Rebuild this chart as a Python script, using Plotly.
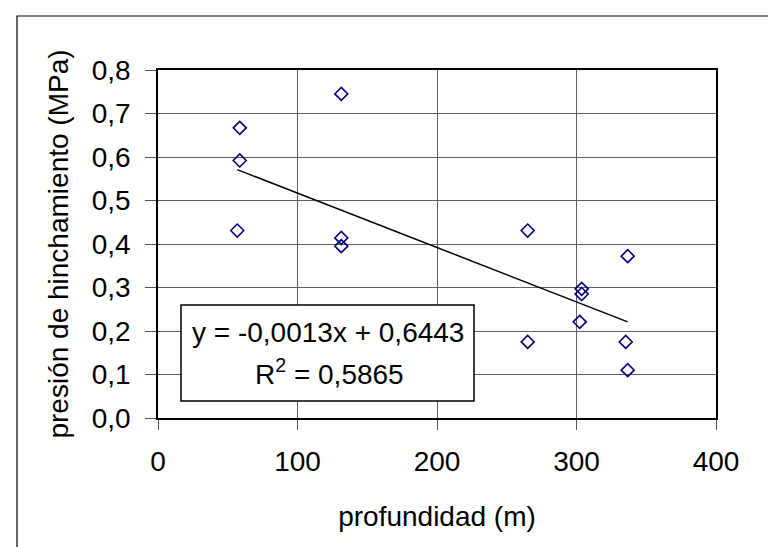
import plotly.graph_objects as go

# data
profundidad = [58.6, 58.6, 56.8, 131.4, 131.4, 131.4, 265.0, 265.0,
               303.7, 303.7, 302.3, 336.7, 335.3, 336.7]
presion = [0.667, 0.592, 0.431, 0.745, 0.414, 0.395, 0.431, 0.175,
           0.297, 0.285, 0.221, 0.372, 0.175, 0.110]
# linear trend line end points (as drawn in the reference)
trend_x = [56.8, 336.7]
trend_y = [0.571, 0.221]
x_ticks = [0, 100, 200, 300, 400]
y_ticks = [0.0, 0.1, 0.2, 0.3, 0.4, 0.5, 0.6, 0.7, 0.8]
y_ticklabels = ["0,0", "0,1", "0,2", "0,3", "0,4", "0,5", "0,6", "0,7", "0,8"]
eq_text = "y = -0,0013x + 0,6443"
r2_text = "R<sup>2</sup> = 0,5865"

FONT = "Liberation Sans, Arial, sans-serif"
FS = 28

L, R, T, B = 150, 68, 62, 137
W, H = 776, 547
pw, ph = W - L - R, H - T - B

def px(xpix):
    return (xpix - L) / pw

def py(ypix):
    return (H - B - ypix) / ph

fig = go.Figure()
fig.add_trace(go.Scatter(
    x=profundidad, y=presion, mode="markers",
    marker=dict(symbol="diamond-open", size=10, color="#000080",
                line=dict(width=1.6, color="#000080")),
    showlegend=False, hoverinfo="skip"))
fig.add_trace(go.Scatter(
    x=trend_x, y=trend_y, mode="lines", line=dict(color="black", width=1.5),
    showlegend=False, hoverinfo="skip"))

# outer frame (extends past right/bottom edge as in reference)
fig.add_shape(type="rect", xref="paper", yref="paper",
              x0=px(9), x1=px(800), y0=py(580), y1=py(8),
              line=dict(color="black", width=1.2), layer="below")
# equation box
fig.add_shape(type="rect", xref="paper", yref="paper",
              x0=px(173), x1=px(466), y0=py(393), y1=py(297),
              line=dict(color="black", width=1.5), fillcolor="white",
              layer="above")
fig.add_annotation(xref="paper", yref="paper", x=px(320), y=py(324),
                   xanchor="center", yanchor="middle",
                   text=eq_text, showarrow=False,
                   font=dict(family=FONT, size=FS, color="black"))
fig.add_annotation(xref="paper", yref="paper", x=px(321), y=py(364),
                   xanchor="center", yanchor="middle",
                   text=r2_text, showarrow=False,
                   font=dict(family=FONT, size=FS, color="black"))

fig.update_xaxes(
    range=[0, 400], tickvals=x_ticks, ticktext=[str(v) for v in x_ticks],
    showgrid=True, gridcolor="#606060", gridwidth=1,
    showline=True, linecolor="black", linewidth=1.5, mirror=True,
    ticks="outside", ticklen=10, tickcolor="#555555", tickwidth=1,
    ticklabelstandoff=8,
    zeroline=False,
    tickfont=dict(family=FONT, size=FS, color="black"),
    title=dict(text="profundidad (m)", standoff=30,
               font=dict(family=FONT, size=FS, color="black")),
    automargin=False)
fig.update_yaxes(
    range=[0, 0.8], tickvals=y_ticks, ticktext=y_ticklabels,
    showgrid=True, gridcolor="#606060", gridwidth=1,
    showline=True, linecolor="black", linewidth=1.5, mirror=True,
    ticks="outside", ticklen=11, tickcolor="#555555", tickwidth=1,
    ticklabelstandoff=9,
    zeroline=False,
    tickfont=dict(family=FONT, size=FS, color="black"),
    title=dict(text="presión de hinchamiento (MPa)", standoff=15,
               font=dict(family=FONT, size=FS, color="black")),
    automargin=False)

fig.update_layout(
    width=W, height=H,
    margin=dict(l=L, r=R, t=T, b=B),
    plot_bgcolor="white", paper_bgcolor="white",
    font=dict(family=FONT, size=FS, color="black"))

fig.write_html("out.html")
